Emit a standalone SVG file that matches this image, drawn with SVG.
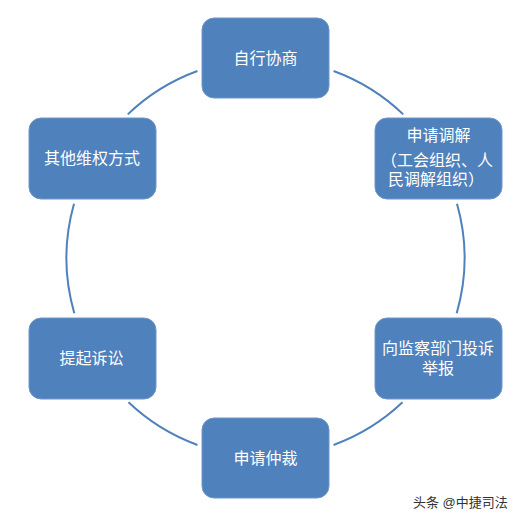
<svg xmlns="http://www.w3.org/2000/svg" width="521" height="520" viewBox="0 0 521 520">
<style>
.box{fill:#4F81BD;stroke:#6F96C8;stroke-width:1}
.t{font-family:"Liberation Sans","Noto Sans CJK SC",sans-serif;font-size:16px;fill:#ffffff;text-anchor:middle}
.arc{fill:none;stroke:#4F81BD;stroke-width:2}
.wm{font-family:"Liberation Sans","Noto Sans CJK SC",sans-serif;font-size:13px;fill:#333333}
</style>
<rect width="521" height="520" fill="#ffffff"/>
<g id="connectors">
<path class="arc" d="M333.56,71.0 A199,199 0 0 1 403.23,114.36"/>
<path class="arc" d="M456.98,203.81 A199,199 0 0 1 456.7,313.19"/>
<path class="arc" d="M402.49,402.35 A199,199 0 0 1 333.56,445.0"/>
<path class="arc" d="M197.44,445.0 A199,199 0 0 1 128.51,402.35"/>
<path class="arc" d="M74.3,313.19 A199,199 0 0 1 74.02,203.81"/>
<path class="arc" d="M127.77,114.36 A199,199 0 0 1 197.44,71.0"/>
</g>
<g id="n1">
<rect class="box" x="202" y="18" width="127" height="80" rx="12"/>
<text class="t" x="265.5" y="64">自行协商</text>
</g>
<g id="n2">
<rect class="box" x="375" y="118" width="127" height="81" rx="12"/>
<text class="t" x="438.5" y="141">申请调解</text>
<text class="t" x="437" y="166">（工会组织、人</text>
<text class="t" x="436" y="184.5">民调解组织）</text>
</g>
<g id="n3">
<rect class="box" x="375" y="318" width="127" height="81" rx="12"/>
<text class="t" x="438" y="354">向监察部门投诉</text>
<text class="t" x="438" y="374">举报</text>
</g>
<g id="n4">
<rect class="box" x="202" y="418" width="127" height="80" rx="12"/>
<text class="t" x="265.5" y="464">申请仲裁</text>
</g>
<g id="n5">
<rect class="box" x="29" y="318" width="127" height="81" rx="12"/>
<text class="t" x="91.5" y="364">提起诉讼</text>
</g>
<g id="n6">
<rect class="box" x="29" y="118" width="127" height="81" rx="12"/>
<text class="t" x="92" y="164">其他维权方式</text>
</g>
<text class="wm" x="413" y="507">头条 @中捷司法</text>
</svg>
